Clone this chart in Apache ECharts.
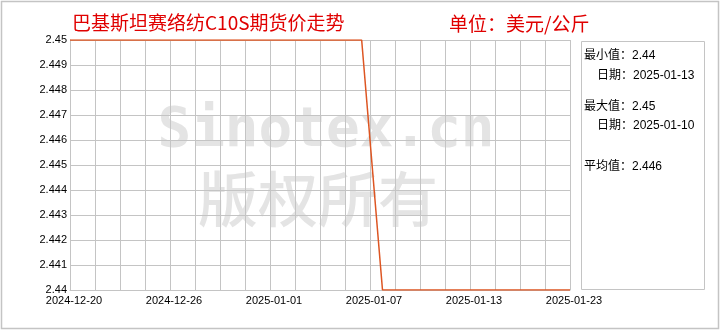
<!DOCTYPE html>
<html>
<head>
<meta charset="utf-8">
<script src="https://cdn.jsdelivr.net/npm/echarts@6/dist/echarts.min.js"></script>
<style>html,body{margin:0;padding:0;background:#fff}#c{width:720px;height:330px}</style>
</head>
<body>
<div id="c"></div>
<script>
// Trading days (series categories)
const dates = ['2024-12-20','2024-12-23','2024-12-24','2024-12-25','2024-12-26','2024-12-27','2024-12-30','2024-12-31',
  '2025-01-01','2025-01-02','2025-01-03','2025-01-06','2025-01-07','2025-01-08','2025-01-09','2025-01-10',
  '2025-01-13','2025-01-14','2025-01-15','2025-01-16','2025-01-17','2025-01-20','2025-01-21','2025-01-22','2025-01-23'];
const prices = [2.45,2.45,2.45,2.45,2.45,2.45,2.45,2.45,2.45,2.45,2.45,2.45,2.45,2.45,2.45,
  2.44,2.44,2.44,2.44,2.44,2.44,2.44,2.44,2.44,2.44];
// Grid columns and their tick labels
const gridLabels = ['2024-12-20','','','','2024-12-26','','','','2025-01-01','','','','2025-01-07','','','','2025-01-13','','','','2025-01-23'];
const yMin = 2.44, yMax = 2.45, yStep = 0.001;
const titleText = '巴基斯坦赛络纺C10S期货价走势';
const unitText = '单位：美元/公斤';
const statLines = ['最小值：2.44','日期：2025-01-13','最大值：2.45','日期：2025-01-10','平均值：2.446'];

const chart = echarts.init(document.getElementById('c'), null, {renderer:'canvas'});
const gridCol = '#c4c4c4';
const infoFont = "12px 'Liberation Sans','Noto Sans CJK SC'";
chart.setOption({
  animation:false,
  backgroundColor:'#fff',
  grid:{left:70,right:150,top:40,bottom:40,containLabel:false},
  xAxis:[{
    type:'category', data:gridLabels, boundaryGap:false, position:'bottom',
    axisLine:{show:true,lineStyle:{color:gridCol,width:1}},
    axisTick:{show:false},
    splitLine:{show:true,interval:0,lineStyle:{color:gridCol,width:1}},
    axisLabel:{interval:0,color:'#000',fontSize:11,fontFamily:'Arial, Liberation Sans',margin:5,padding:[0,0,0,8]}
  },{
    type:'category', data:dates, boundaryGap:false, show:false
  }],
  yAxis:{
    type:'value', min:yMin, max:yMax, interval:yStep,
    axisLine:{show:true,lineStyle:{color:gridCol}},
    axisTick:{show:false},
    splitLine:{show:true,lineStyle:{color:gridCol,width:1}},
    axisLabel:{color:'#000',fontSize:11,fontFamily:'Arial, Liberation Sans',margin:3,padding:[0,0,8,0],
      formatter:v=>String(Math.round(v*1000)/1000)}
  },
  series:[{
    type:'line', xAxisIndex:1, data:prices, symbol:'none',
    lineStyle:{color:'#dd5522',width:1.5}, itemStyle:{color:'#dd5522'}, z:5
  }],
  graphic:[
    {type:'text',z:-1,style:{text:'Sinotex.cn',x:326,y:131,textAlign:'center',textVerticalAlign:'middle',
      font:"bold 56px 'DejaVu Sans Mono'",fill:'#e4e4e4'}},
    {type:'text',z:-1,style:{text:'版权所有',x:318,y:199,textAlign:'center',textVerticalAlign:'middle',
      font:"500 60px 'Noto Sans CJK SC'",fill:'#e4e4e4'}},
    {type:'text',style:{text:titleText,x:72,y:23,textAlign:'left',textVerticalAlign:'middle',
      font:"19px 'Noto Sans CJK SC'",fill:'#e00000'}},
    {type:'text',style:{text:unitText,x:449,y:24,textAlign:'left',textVerticalAlign:'middle',
      font:"19px 'Noto Sans CJK SC'",fill:'#e00000'}},
    {type:'rect',shape:{x:581.5,y:41.5,width:123,height:248},style:{fill:'none',stroke:gridCol,lineWidth:1}},
    {type:'text',style:{text:statLines[0],x:584,y:56,textVerticalAlign:'middle',font:infoFont,fill:'#000'}},
    {type:'text',style:{text:statLines[1],x:597,y:76,textVerticalAlign:'middle',font:infoFont,fill:'#000'}},
    {type:'text',style:{text:statLines[2],x:584,y:107,textVerticalAlign:'middle',font:infoFont,fill:'#000'}},
    {type:'text',style:{text:statLines[3],x:597,y:126,textVerticalAlign:'middle',font:infoFont,fill:'#000'}},
    {type:'text',style:{text:statLines[4],x:584,y:167,textVerticalAlign:'middle',font:infoFont,fill:'#000'}},
    {type:'rect',shape:{x:1.5,y:1.5,width:717,height:327},style:{fill:'none',stroke:gridCol,lineWidth:1.5}}
  ]
});
</script>
</body>
</html>
